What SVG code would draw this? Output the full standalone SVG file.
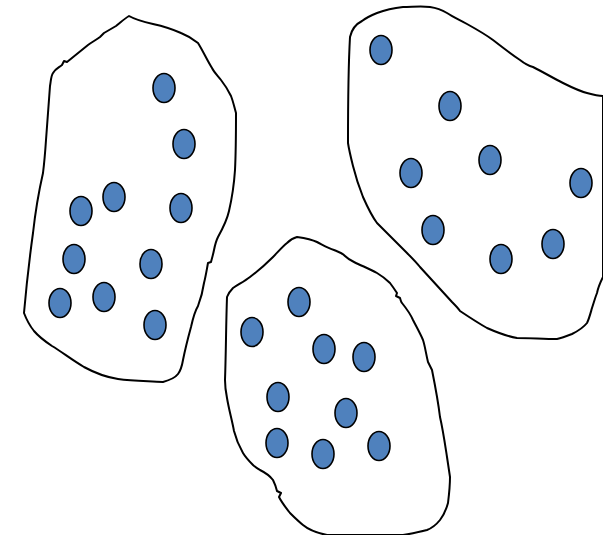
<svg xmlns="http://www.w3.org/2000/svg" width="603" height="535" viewBox="0 0 603 535">
<style>
.blob{fill:#ffffff;stroke:#000;stroke-width:2;stroke-linejoin:round}
.dot{fill:#4F81BD;stroke:#000;stroke-width:1.6}
</style>
<rect width="603" height="535" fill="#fff"/>
<g id="cluster-left">
<path class="blob" d="M129,16 C124,19 120,23 116,26 L104,33 L100,37 C96,40 92,42 88,45 L67,62 L64,61 L62,65 C58,68 55,69 53,73 C51,76 51,80 50,86 L46,140 C45,155 44,165 43,173 C38,195 35,215 33,233 C29,262 26,290 24,313 C27,321 30,326 34,331 C40,338 46,342 52,346 C62,352 72,360 84,367 C95,373 105,377 118,379 C133,381 148,381 163,382 C170,380 175,378 178,374 C181,370 182,366 183,360 C185,350 188,338 191,327 C193,318 195,311 198,306 C201,298 203,290 204,283 C206,275 207,268 208,263 L211,262 C212,258 213,255 214,250 C215,245 216,241 218,237 C223,228 227,220 229,211 C232,198 234,185 235,170 C236,150 236,130 236,113 C234,106 233,101 231,96 C228,90 225,85 221,80 C217,75 214,72 212,68 C207,60 203,51 198,43 C192,38 186,35 181,33 C172,29 162,26 153,24 C144,22 136,20 129,16 Z"/>
<ellipse class="dot" cx="164" cy="88" rx="11" ry="14.5"/>
<ellipse class="dot" cx="184" cy="144" rx="11" ry="14.5"/>
<ellipse class="dot" cx="181" cy="208" rx="11" ry="14.5"/>
<ellipse class="dot" cx="114" cy="197" rx="11" ry="14.5"/>
<ellipse class="dot" cx="81" cy="211" rx="11" ry="14.5"/>
<ellipse class="dot" cx="74" cy="259" rx="11" ry="14.5"/>
<ellipse class="dot" cx="151" cy="264" rx="11" ry="14.5"/>
<ellipse class="dot" cx="60" cy="303" rx="11" ry="14.5"/>
<ellipse class="dot" cx="104" cy="297" rx="11" ry="14.5"/>
<ellipse class="dot" cx="155" cy="325" rx="11" ry="14.5"/>
</g>
<g id="cluster-right">
<path class="blob" d="M350,37 C352,28 356,24 362,21 C367,17 372,15 377,13 C385,10 394,8 403,7 C412,7 421,6 430,7 C437,8 442,10 447,13 C453,17 460,20 467,24 C476,29 485,34 493,40 C502,47 511,54 520,60 C525,64 529,66 533,67 C543,72 553,78 563,83 C571,87 579,91 587,93 C594,95 599,96 603,96 L603,277 C600,283 598,288 597,293 C595,298 594,302 592,308 C590,315 589,319 587,323 C583,328 578,331 572,334 C567,336 562,338 557,339 C544,339 530,338 517,338 C506,336 496,332 487,328 C478,323 469,317 460,311 C458,308 455,305 452,302 C441,290 430,278 420,267 C416,262 411,257 407,253 C397,243 387,233 377,223 C371,215 367,206 363,197 C359,187 356,178 353,166 C351,158 349,150 348,143 C348,108 348,72 350,37 Z"/>
<ellipse class="dot" cx="381" cy="50" rx="11" ry="14.5"/>
<ellipse class="dot" cx="450" cy="106" rx="11" ry="14.5"/>
<ellipse class="dot" cx="411" cy="173" rx="11" ry="14.5"/>
<ellipse class="dot" cx="490" cy="160" rx="11" ry="14.5"/>
<ellipse class="dot" cx="581" cy="183" rx="11" ry="14.5"/>
<ellipse class="dot" cx="433" cy="230" rx="11" ry="14.5"/>
<ellipse class="dot" cx="501" cy="259" rx="11" ry="14.5"/>
<ellipse class="dot" cx="553" cy="244" rx="11" ry="14.5"/>
</g>
<g id="cluster-middle">
<path class="blob" d="M297,237 C304,238 311,239 317,242 C323,245 328,248 334,250 C339,252 342,253 345,256 C348,259 350,260 354,262 C362,266 370,269 377,273 C382,276 386,279 390,283 C393,287 395,290 397,293 L396,296 L400,298 C401,301 401,302 402,303 C406,308 410,313 413,320 C416,326 420,333 423,340 C425,346 426,354 428,362 L432,370 C435,385 438,400 440,417 C443,430 445,444 447,457 C448,464 449,470 450,477 C450,486 449,495 448,503 C446,510 444,515 440,520 C436,525 432,528 427,530 C419,532 411,534 403,535 C378,535 352,535 327,535 C317,533 309,530 303,525 C298,521 294,517 290,513 C286,508 282,503 279,497 L281,493 L277,491 C276,487 275,484 273,480 C270,476 266,473 260,470 C257,468 255,467 253,465 C249,461 246,458 243,453 C239,446 236,439 234,431 C232,420 229,410 227,398 C225,388 225,385 225,380 C226,352 226,325 227,297 C229,292 231,290 233,288 C239,284 245,281 250,277 C258,271 266,264 273,257 C278,252 282,247 287,243 C290,240 293,238 297,237 Z"/>
<ellipse class="dot" cx="252" cy="332" rx="11" ry="14.5"/>
<ellipse class="dot" cx="299" cy="302" rx="11" ry="14.5"/>
<ellipse class="dot" cx="324" cy="349" rx="11" ry="14.5"/>
<ellipse class="dot" cx="364" cy="357" rx="11" ry="14.5"/>
<ellipse class="dot" cx="278" cy="397" rx="11" ry="14.5"/>
<ellipse class="dot" cx="346" cy="413" rx="11" ry="14.5"/>
<ellipse class="dot" cx="277" cy="443" rx="11" ry="14.5"/>
<ellipse class="dot" cx="323" cy="454" rx="11" ry="14.5"/>
<ellipse class="dot" cx="379" cy="446" rx="11" ry="14.5"/>
</g>
</svg>
